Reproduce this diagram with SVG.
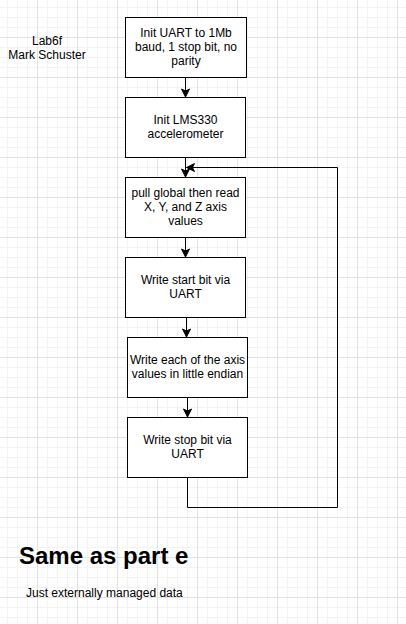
<svg xmlns="http://www.w3.org/2000/svg" width="406" height="624" viewBox="0 0 406 624">
<style>
.box{fill:#fff;stroke:#000;stroke-width:1}
.t{font-family:"Liberation Sans",Arial,sans-serif;font-size:12px;fill:#000;text-anchor:middle}
.edge{fill:none;stroke:#000;stroke-width:1}
</style>
<defs>
<pattern id="grid" x="-3" y="-3" width="40" height="40" patternUnits="userSpaceOnUse">
<path d="M10.5 0V40M20.5 0V40M30.5 0V40M0 10.5H40M0 20.5H40M0 30.5H40" stroke="#f3f3f3" stroke-width="1" fill="none"/>
<path d="M0.5 0V40M0 0.5H40" stroke="#e2e2e2" stroke-width="1" fill="none"/>
</pattern>
<marker id="arr" markerUnits="userSpaceOnUse" markerWidth="10" markerHeight="10" viewBox="0 0 10 10" refX="9" refY="5" orient="auto">
<path d="M1,1 L9,5 L1,9 L3,5 Z" fill="#000" stroke="#000" stroke-width="1"/>
</marker>
</defs>
<rect width="406" height="624" fill="#fff"/>
<rect width="406" height="624" fill="url(#grid)"/>

<g id="connectors">
<path class="edge" d="M185.5 77.5V97" marker-end="url(#arr)"/>
<path class="edge" d="M185.5 157.5V177" marker-end="url(#arr)"/>
<path class="edge" d="M185.5 237.5V257" marker-end="url(#arr)"/>
<path class="edge" d="M186.5 317.5V337" marker-end="url(#arr)"/>
<path class="edge" d="M187.5 397.5V417" marker-end="url(#arr)"/>
<path class="edge" d="M187.5 477.5V507.5H337.5V167.5H186.5" marker-end="url(#arr)"/>
</g>

<g id="label-author">
<text class="t" x="47" y="45">Lab6f</text>
<text class="t" x="47" y="59">Mark Schuster</text>
</g>

<g id="n1">
<rect class="box" x="125.5" y="17.5" width="121" height="60"/>
<text class="t" x="186" y="37">Init UART to 1Mb</text>
<text class="t" x="186" y="51">baud, 1 stop bit, no</text>
<text class="t" x="186" y="65">parity</text>
</g>
<g id="n2">
<rect class="box" x="125.5" y="97.5" width="120" height="60"/>
<text class="t" x="185.5" y="124">Init LMS330</text>
<text class="t" x="185.5" y="138">accelerometer</text>
</g>
<g id="n3">
<rect class="box" x="125.5" y="177.5" width="120" height="60"/>
<text class="t" x="185.5" y="197">pull global then read</text>
<text class="t" x="185.5" y="211">X, Y, and Z axis</text>
<text class="t" x="185.5" y="225">values</text>
</g>
<g id="n4">
<rect class="box" x="125.5" y="257.5" width="120" height="60"/>
<text class="t" x="185.5" y="284">Write start bit via</text>
<text class="t" x="185.5" y="298">UART</text>
</g>
<g id="n5">
<rect class="box" x="127.5" y="337.5" width="120" height="60"/>
<text class="t" x="187.5" y="364">Write each of the axis</text>
<text class="t" x="187.5" y="378">values in little endian</text>
</g>
<g id="n6">
<rect class="box" x="127.5" y="417.5" width="120" height="60"/>
<text class="t" x="187.5" y="444">Write stop bit via</text>
<text class="t" x="187.5" y="458">UART</text>
</g>

<g id="title">
<text x="19" y="564" font-family="'Liberation Sans',Arial,sans-serif" font-size="24" font-weight="bold" fill="#000">Same as part e</text>
</g>
<g id="subtitle">
<text x="26" y="597" font-family="'Liberation Sans',Arial,sans-serif" font-size="12" fill="#000">Just externally managed data</text>
</g>
</svg>
